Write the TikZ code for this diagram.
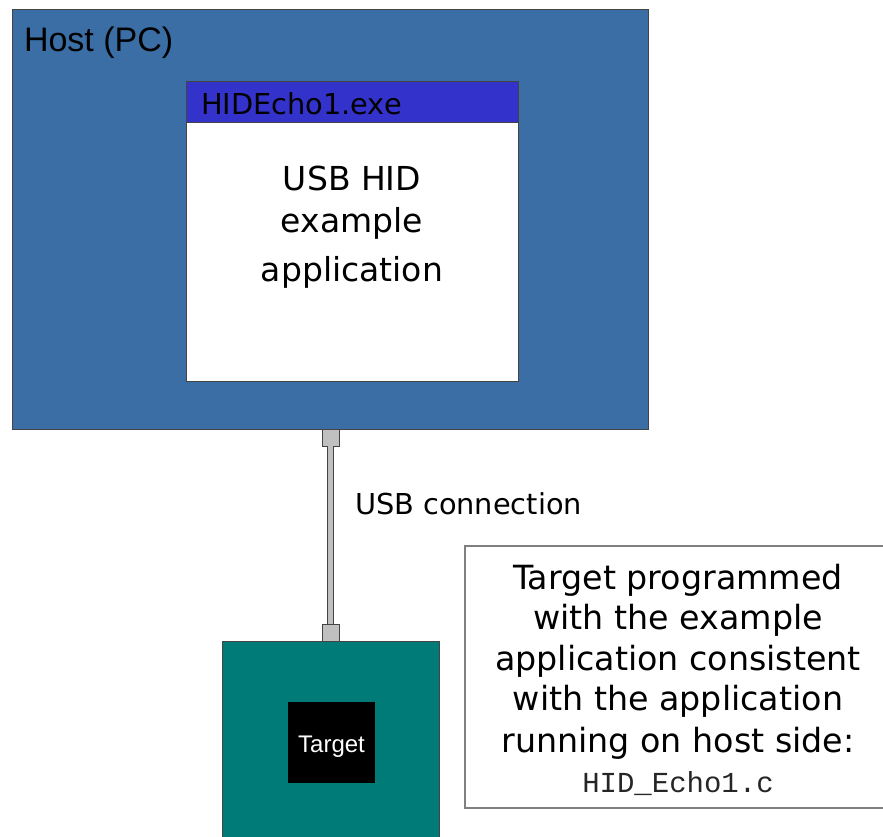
\documentclass[tikz,border=0pt]{standalone}
\usepackage{fontspec}
\setmainfont{DejaVu Sans}
\newfontfamily\arialfont{Liberation Sans}
\newfontfamily\courfont{Liberation Mono}
\definecolor{hostblue}{HTML}{3A6EA5}
\definecolor{titleblue}{HTML}{3333CC}
\definecolor{teal}{HTML}{007B78}
\definecolor{portgray}{HTML}{C0C0C0}
\definecolor{edgegray}{HTML}{444444}
\tikzset{
  boxbase/.style={anchor=north west, inner sep=0pt, outer sep=0pt},
  hostbox/.style={boxbase, fill=hostblue, draw=edgegray, line width=1pt},
  appbox/.style={boxbase, fill=white, draw=edgegray, line width=1pt},
  titlebar/.style={boxbase, fill=titleblue, draw=edgegray, line width=1pt},
  boardbox/.style={boxbase, fill=teal, draw=edgegray, line width=1pt},
  chipbox/.style={boxbase, fill=black, draw=none},
  notebox/.style={boxbase, fill=white, draw=gray, line width=1.5pt},
  portbox/.style={inner sep=0pt, outer sep=0pt, fill=portgray, draw=edgegray, line width=1pt, minimum width=17pt, minimum height=17pt},
  cable/.style={draw=edgegray, line width=1pt, double=portgray, double distance=5pt},
  txt/.style={inner sep=0pt, outer sep=0pt, anchor=base},
  txtl/.style={txt, anchor=base west},
  apptext/.style={txt, font=\fontsize{33}{40}\selectfont},
  notetext/.style={txt, font=\fontsize{33.3}{40}\selectfont},
}
\begin{document}
\begin{tikzpicture}[x=1pt,y=-1pt]
\useasboundingbox (0,0) rectangle (883,837);
\fill[white] (0,0) rectangle (883,837);
% host
\node[hostbox, minimum width=636pt, minimum height=419pt] (host) at (12,10) {};
\node[txtl, font=\arialfont\fontsize{34}{40}\selectfont] (hostlabel) at (24,52) {Host (PC)};
% application window
\node[appbox, minimum width=332pt, minimum height=299pt] (app) at (186,82) {};
\node[titlebar, minimum width=332pt, minimum height=41pt] (title) at (186,82) {};
\node[txtl, font=\fontsize{28.8}{34}\selectfont] (titletext) at (201,115) {HIDEcho1.exe};
\node[apptext] (app1) at (352,191) {USB HID};
\node[apptext] (app2) at (352,232) {example};
\node[apptext] (app3) at (352,281) {application};
% ports and cable
\node[portbox, anchor=north] (porttop) at (330.5,429) {};
\node[portbox, anchor=south] (portbot) at (330.5,641) {};
\draw[cable] (porttop.south) -- (portbot.north);
\node[txtl, font=\fontsize{28.8}{34}\selectfont] (usblabel) at (355,514) {USB connection};
% target board
\node[boardbox, minimum width=217pt, minimum height=210pt] (board) at (222,641) {};
\node[chipbox, minimum width=87pt, minimum height=81pt] (chip) at (288,702) {};
\node[txt, text=white, font=\arialfont\fontsize{24}{28}\selectfont] (chiplabel) at (331.5,752) {Target};
% note
\node[notebox, minimum width=430pt, minimum height=262pt] (note) at (465,546) {};
\node[notetext] (n1) at (678,589) {Target programmed};
\node[notetext] (n2) at (678,629) {with the example};
\node[notetext] (n3) at (678,670) {application consistent};
\node[notetext] (n4) at (678,710) {with the application};
\node[notetext] (n5) at (678,752) {running on host side:};
\node[txt, font=\courfont\fontsize{29}{34}\selectfont, text=black!85] (n6) at (678,792) {HID\_Echo1.c};
\end{tikzpicture}
\end{document}
